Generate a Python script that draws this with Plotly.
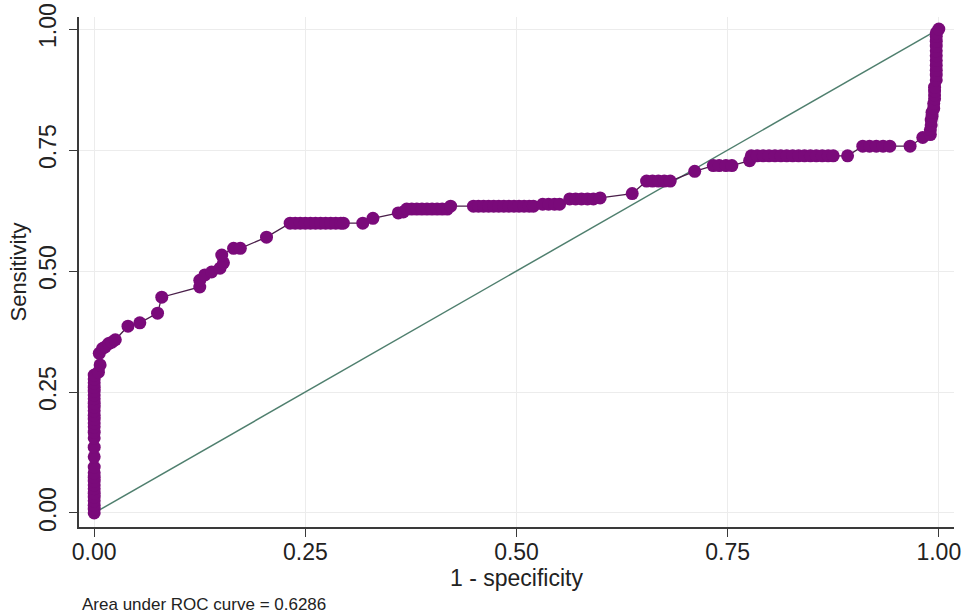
import plotly.graph_objects as go

# ROC curve points (1 - specificity, sensitivity)
fpr = [0.000, 0.000, 0.000, 0.000, 0.000, 0.000, 0.000, 0.000, 0.000, 0.000,
       0.000, 0.000, 0.000, 0.000, 0.000, 0.000, 0.000, 0.000, 0.000, 0.000,
       0.000, 0.000, 0.000, 0.000, 0.000, 0.000, 0.000, 0.000, 0.000, 0.000,
       0.005, 0.007, 0.006, 0.010, 0.013, 0.017, 0.021, 0.025,
       0.040, 0.054, 0.075, 0.080,
       0.125, 0.125, 0.131, 0.139, 0.149, 0.153, 0.151, 0.165, 0.173, 0.204,
       0.232, 0.238, 0.244, 0.250, 0.256, 0.262, 0.268, 0.274, 0.280, 0.286, 0.292, 0.295,
       0.318, 0.330, 0.360, 0.366,
       0.370, 0.376, 0.382, 0.388, 0.394, 0.400, 0.406, 0.412, 0.418, 0.422,
       0.449, 0.455, 0.461, 0.467, 0.473, 0.479, 0.485, 0.491, 0.497, 0.503, 0.509, 0.515, 0.520,
       0.531, 0.538, 0.545, 0.551,
       0.563, 0.570, 0.577, 0.584, 0.591, 0.599,
       0.637,
       0.654, 0.661, 0.668, 0.675, 0.682,
       0.711,
       0.733, 0.740, 0.748, 0.755,
       0.776,
       0.778, 0.785, 0.792, 0.799, 0.806, 0.813, 0.820, 0.827, 0.834, 0.841, 0.848, 0.855, 0.862, 0.869, 0.875,
       0.892,
       0.910, 0.918, 0.926, 0.934, 0.942,
       0.966, 0.981,
       0.990, 0.990, 0.991, 0.991, 0.992, 0.992,
       0.994, 0.994, 0.995, 0.995, 0.995, 0.995,
       0.997, 0.997, 0.997, 0.997, 0.997, 0.997, 0.997, 0.997, 0.997, 0.997, 0.997,
       1.000]

tpr = [0.000, 0.008, 0.016, 0.025, 0.033, 0.041, 0.050, 0.058, 0.066, 0.074,
       0.083, 0.095, 0.116, 0.136, 0.155, 0.167, 0.178, 0.186, 0.194, 0.202,
       0.211, 0.219, 0.227, 0.236, 0.244, 0.252, 0.260, 0.269, 0.277, 0.285,
       0.291, 0.306, 0.330, 0.340, 0.343, 0.350, 0.353, 0.358,
       0.386, 0.393, 0.413, 0.446,
       0.467, 0.481, 0.492, 0.498, 0.506, 0.517, 0.533, 0.547, 0.547, 0.570,
       0.599, 0.599, 0.599, 0.599, 0.599, 0.599, 0.599, 0.599, 0.599, 0.599, 0.599, 0.599,
       0.599, 0.609, 0.620, 0.622,
       0.628, 0.628, 0.628, 0.628, 0.628, 0.628, 0.628, 0.628, 0.628, 0.634,
       0.634, 0.634, 0.634, 0.634, 0.634, 0.634, 0.634, 0.634, 0.634, 0.634, 0.634, 0.634, 0.634,
       0.638, 0.638, 0.638, 0.638,
       0.649, 0.649, 0.649, 0.649, 0.649, 0.651,
       0.660,
       0.686, 0.686, 0.686, 0.686, 0.686,
       0.706,
       0.718, 0.718, 0.718, 0.718,
       0.728,
       0.738, 0.738, 0.738, 0.738, 0.738, 0.738, 0.738, 0.738, 0.738, 0.738, 0.738, 0.738, 0.738, 0.738, 0.738,
       0.738,
       0.758, 0.758, 0.758, 0.758, 0.758,
       0.758, 0.776,
       0.782, 0.792, 0.802, 0.812, 0.820, 0.828,
       0.836, 0.846, 0.856, 0.864, 0.872, 0.880,
       0.895, 0.905, 0.915, 0.925, 0.935, 0.945, 0.955, 0.965, 0.975, 0.985, 0.992,
       1.000]

ref_line = [0.0, 1.0]
tick_vals = [0.0, 0.25, 0.5, 0.75, 1.0]
tick_text = ["0.00", "0.25", "0.50", "0.75", "1.00"]
auc_text = "Area under ROC curve = 0.6286"

FONT = "Liberation Sans, Arial, Helvetica, sans-serif"

fig = go.Figure()
fig.add_trace(go.Scatter(
    x=ref_line, y=ref_line, mode="lines",
    line=dict(color="#4f7f6e", width=1.5), hoverinfo="skip", showlegend=False))
fig.add_trace(go.Scatter(
    x=fpr, y=tpr, mode="lines+markers",
    marker=dict(size=13, color="#7a0a7a"),
    line=dict(color="#4a1f4a", width=1.3), showlegend=False))

axis_common = dict(
    showline=True, linecolor="#3a3a3a", linewidth=1.5, mirror=False,
    ticks="outside", ticklen=8, tickwidth=1.2, tickcolor="#3a3a3a",
    tickvals=tick_vals, ticktext=tick_text, automargin=False,
    showgrid=True, gridcolor="#ececec", gridwidth=1.2, zeroline=False,
    tickfont=dict(family=FONT, size=23, color="#222222"),
)

fig.update_layout(
    width=963, height=614,
    margin=dict(l=79, r=9, t=17, b=87),
    paper_bgcolor="white", plot_bgcolor="white",
    font=dict(family=FONT, color="#222222"),
    xaxis=dict(range=[-0.018, 1.018], ticklabelstandoff=-4,
               title=dict(text="1 - specificity", font=dict(family=FONT, size=23), standoff=0),
               **axis_common),
    yaxis=dict(range=[-0.029, 1.025], tickangle=-90, ticklabelstandoff=4,
               title=dict(text="Sensitivity", font=dict(family=FONT, size=22), standoff=2),
               **axis_common),
    annotations=[dict(
        text=auc_text, xref="paper", yref="paper", x=0.001, y=-0.152,
        xanchor="left", yanchor="middle", showarrow=False,
        font=dict(family=FONT, size=17, color="#222222"))],
)

fig.write_html("out.html", config={"displayModeBar": False},
               post_script="document.body.style.margin='0';document.body.style.overflow='hidden';")
